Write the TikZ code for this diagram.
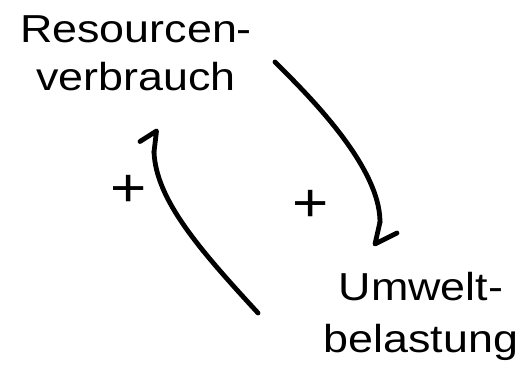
\documentclass[tikz,border=0pt]{standalone}
\usepackage{fontspec}
\setmainfont[FakeStretch=1.15]{Liberation Sans}
\begin{document}
\begin{tikzpicture}[x=1pt,y=-1pt,
  lbl/.style={inner sep=0pt, align=center},
  sgn/.style={inner sep=0pt, font=\fontsize{54}{54}\selectfont},
  link/.style={line width=4.8pt, line cap=round, line join=round}]
\useasboundingbox (0,0) rectangle (529,369);
\node[lbl, anchor=base, font=\fontsize{39}{48}\selectfont] (res) at (136,90) {Resourcen-\\verbrauch};
\node[lbl, anchor=base, font=\fontsize{39}{52}\selectfont] (umw) at (421,352) {Umwelt-\\belastung};
\node[sgn] (p1) at (129,191) {+};
\node[sgn] (p2) at (311,206) {+};
\coordinate (a1s) at (275,62);
\coordinate (a1e) at (380,222);
\coordinate (a1t) at (375,244);
\coordinate (a1b) at (397,233);
\coordinate (a2s) at (258,313);
\coordinate (a2e) at (154,152);
\coordinate (a2t) at (156.5,131);
\coordinate (a2b) at (140,141.5);
\draw[link] (a1s) .. controls (305,92) and (380,165) .. (a1e);
\draw[link] (a1e) -- (a1t) -- (a1b);
\draw[link] (a2s) .. controls (200,250) and (156,200) .. (a2e);
\draw[link] (a2e) -- (a2t) -- (a2b);
\end{tikzpicture}
\end{document}
